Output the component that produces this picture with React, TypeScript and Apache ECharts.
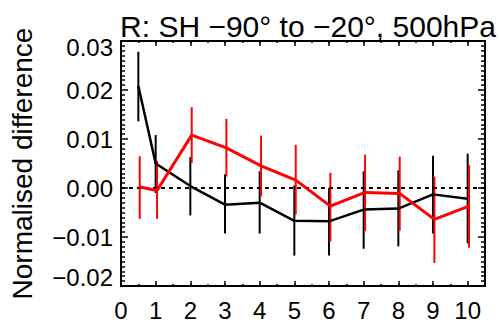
import React, { useEffect, useRef } from "react";
import * as echarts from "echarts";

const titleText = "R: SH \u221290\u00b0 to \u221220\u00b0, 500hPa";
const yAxisTitle = "Normalised difference";

const blackX = [0.5, 1, 2, 3, 4, 5, 6, 7, 8, 9, 10];
const blackY = [0.0208, 0.005, 0.0004, -0.0034, -0.003, -0.0067, -0.0068, -0.0044, -0.0042, -0.0013, -0.0022];
const blackLo = [0.0136, -0.001, -0.0056, -0.0093, -0.0093, -0.0138, -0.0138, -0.0124, -0.0119, -0.0093, -0.0113];
const blackHi = [0.0278, 0.0108, 0.0063, 0.0028, 0.0034, 0.0005, 0.0, 0.0034, 0.0036, 0.0066, 0.007];

const redX = [0.54, 1.04, 2.04, 3.04, 4.04, 5.04, 6.04, 7.04, 8.04, 9.04, 10.04];
const redY = [0.0002, -0.0005, 0.0108, 0.0082, 0.0045, 0.0016, -0.0037, -0.0009, -0.0011, -0.0064, -0.0037];
const redLo = [-0.0063, -0.0063, 0.0051, 0.0023, -0.0017, -0.0054, -0.0109, -0.0088, -0.0087, -0.0153, -0.0122];
const redHi = [0.0065, 0.0055, 0.0165, 0.0141, 0.0107, 0.0088, 0.0031, 0.0068, 0.0064, 0.0023, 0.0047];

const zeroLineX = [0, 10.5];
const zeroLineY = [0, 0];

const xMin = 0;
const xMax = 10.5;
const yMin = -0.02;
const yMax = 0.03;

const FONT = "Liberation Sans, Arial, Helvetica, sans-serif";

function fmtY(v: number): string {
  const s = Math.abs(v).toFixed(2);
  return v < -1e-9 ? "\u2212" + s : s;
}

function errorBarSeries(xs: number[], lo: number[], hi: number[], color: string, width: number) {
  return {
    type: "custom",
    xAxisIndex: 0,
    yAxisIndex: 0,
    silent: true,
    data: xs.map((x, i) => [x, lo[i], hi[i]]),
    renderItem: (params: any, api: any) => {
      const p1 = api.coord([api.value(0), api.value(1)]);
      const p2 = api.coord([api.value(0), api.value(2)]);
      return {
        type: "line",
        shape: { x1: p1[0], y1: p1[1], x2: p2[0], y2: p2[1] },
        style: { stroke: color, lineWidth: width },
      };
    },
  };
}

export default function App() {
  const ref = useRef<HTMLDivElement>(null);
  useEffect(() => {
    document.body.style.margin = "0";
    if (!ref.current) return;
    const chart = echarts.init(ref.current, null, { renderer: "svg" });
    const labelBase = { fontFamily: FONT, fontSize: 24, color: "#000" };
    const xCommon = {
      type: "value",
      min: xMin,
      max: xMax,
      splitLine: { show: false },
    };
    const yCommon = {
      type: "value",
      min: yMin,
      max: yMax,
      interval: 0.01,
      splitLine: { show: false },
    };
    const lineOn = { show: true, onZero: false, lineStyle: { color: "#000", width: 2 } };
    const lineOff = { show: false, onZero: false };
    chart.setOption({
      animation: false,
      backgroundColor: "#fff",
      title: {
        text: titleText,
        left: 303,
        top: 6,
        textAlign: "center",
        textStyle: { fontFamily: FONT, fontSize: 30, fontWeight: "normal", color: "#000" },
      },
      grid: { left: 120, right: 15, top: 41, bottom: 46 },
      xAxis: [
        {
          ...xCommon,
          position: "bottom",
          interval: 1,
          axisLine: lineOn,
          axisTick: { show: true, inside: true, length: 5, lineStyle: { color: "#000", width: 1.5 } },
          axisLabel: {
            ...labelBase,
            margin: 12,
            formatter: (v: number) => (Math.abs(v - Math.round(v)) < 1e-9 ? String(Math.round(v)) : ""),
          },
        },
        {
          ...xCommon,
          position: "bottom",
          interval: 0.5,
          axisLine: lineOff,
          axisTick: { show: true, inside: true, length: 2, lineStyle: { color: "#000", width: 1.5 } },
          axisLabel: { show: false },
        },
        {
          ...xCommon,
          position: "top",
          interval: 1,
          axisLine: lineOn,
          axisTick: { show: true, inside: true, length: 5, lineStyle: { color: "#000", width: 1.5 } },
          axisLabel: { show: false },
        },
        {
          ...xCommon,
          position: "top",
          interval: 0.5,
          axisLine: lineOff,
          axisTick: { show: true, inside: true, length: 2, lineStyle: { color: "#000", width: 1.5 } },
          axisLabel: { show: false },
        },
      ],
      yAxis: [
        {
          ...yCommon,
          position: "left",
          name: yAxisTitle,
          nameLocation: "middle",
          nameGap: 85,
          nameTextStyle: { fontFamily: FONT, fontSize: 28, color: "#000" },
          axisLine: lineOn,
          axisTick: { show: true, inside: true, length: 7, lineStyle: { color: "#000", width: 1.5 } },
          minorTick: { show: true, splitNumber: 10, length: 4, lineStyle: { color: "#000", width: 1.5 } },
          axisLabel: {
            ...labelBase,
            margin: 8,
            formatter: (v: number) => {
              const s = fmtY(v);
              if (Math.abs(v - yMax) < 1e-9) return "{top|" + s + "}";
              if (Math.abs(v - yMin) < 1e-9) return "{bot|" + s + "}";
              return "{n|" + s + "}";
            },
            rich: {
              n: { ...labelBase },
              top: { ...labelBase, padding: [12, 0, 0, 0] },
              bot: { ...labelBase, padding: [0, 0, 17, 0] },
            },
          },
        },
        {
          ...yCommon,
          position: "right",
          axisLine: lineOn,
          axisTick: { show: true, inside: true, length: 7, lineStyle: { color: "#000", width: 1.5 } },
          minorTick: { show: true, splitNumber: 10, length: 4, lineStyle: { color: "#000", width: 1.5 } },
          axisLabel: { show: false },
        },
      ],
      series: [
        {
          type: "line",
          xAxisIndex: 0,
          yAxisIndex: 0,
          data: zeroLineX.map((x, i) => [x, zeroLineY[i]]),
          showSymbol: false,
          symbol: "none",
          lineStyle: { color: "#000", width: 2, type: [4, 4] },
          silent: true,
        },
        errorBarSeries(blackX, blackLo, blackHi, "#000", 2),
        {
          type: "line",
          xAxisIndex: 0,
          yAxisIndex: 0,
          data: blackX.map((x, i) => [x, blackY[i]]),
          showSymbol: false,
          symbol: "none",
          lineStyle: { color: "#000", width: 2.5 },
          silent: true,
        },
        errorBarSeries(redX, redLo, redHi, "#ff0000", 2),
        {
          type: "line",
          xAxisIndex: 0,
          yAxisIndex: 0,
          data: redX.map((x, i) => [x, redY[i]]),
          showSymbol: false,
          symbol: "none",
          lineStyle: { color: "#ff0000", width: 3 },
          silent: true,
        },
      ],
    });
    return () => chart.dispose();
  }, []);
  return <div ref={ref} style={{ width: 500, height: 332 }} />;
}
